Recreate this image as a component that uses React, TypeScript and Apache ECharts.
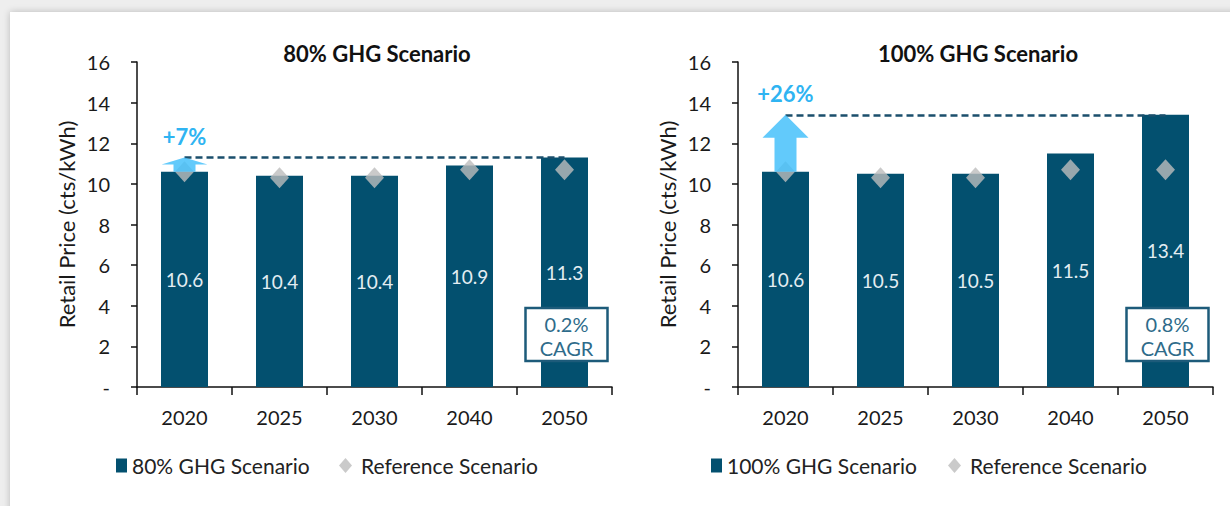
import React, { useEffect, useRef } from "react";
import * as echarts from "echarts";

const categories = ["2020", "2025", "2030", "2040", "2050"];
const ghg80 = [10.6, 10.4, 10.4, 10.9, 11.3];
const ghg100 = [10.6, 10.5, 10.5, 11.5, 13.4];
const reference = [10.6, 10.3, 10.3, 10.7, 10.7];
const yTicks = [0, 2, 4, 6, 8, 10, 12, 14, 16];
const titles = ["80% GHG Scenario", "100% GHG Scenario"];
const increaseLabels = ["+7%", "+26%"];
const cagrLabels = ["0.2%", "0.8%"];

const FONT = "Lato, 'Open Sans', sans-serif";
const BAR = "#03506f";
const DIAMOND = "#bdbdbd";
const ARROW = "rgba(64,190,250,0.82)";
const ARROWTXT = "#2fb4f2";
const DASH = "#1b4f6c";

function arrowItem(label: string) {
  return (params: any, api: any) => {
    const x = api.coord([api.value(0), api.value(1)]);
    const top = api.coord([api.value(0), api.value(2)]);
    const cx = x[0];
    const yb = x[1];
    const yt = top[1];
    const total = yb - yt;
    const headH = Math.min(23, total * 0.5);
    const headW = 23;
    const shaftW = 11;
    const yh = yt + headH;
    return {
      type: "group",
      children: [
        {
          type: "polygon",
          shape: {
            points: [
              [cx, yt],
              [cx + headW, yh],
              [cx + shaftW, yh],
              [cx + shaftW, yb],
              [cx - shaftW, yb],
              [cx - shaftW, yh],
              [cx - headW, yh],
            ],
          },
          style: { fill: ARROW },
        },
        {
          type: "text",
          style: {
            text: label,
            x: cx,
            y: yt - 21,
            fill: ARROWTXT,
            fontSize: 22,
            fontWeight: "bold",
            fontFamily: FONT,
            align: "center",
            verticalAlign: "middle",
            textAlign: "center",
            textVerticalAlign: "middle",
          },
        },
      ],
    };
  };
}

function cagrItem(label: string) {
  return (params: any, api: any) => {
    const base = api.coord([api.value(0), 0]);
    const cx = base[0] + 2;
    const w = 82;
    const h = 53;
    const y0 = base[1] - 79;
    return {
      type: "group",
      children: [
        {
          type: "rect",
          shape: { x: cx - w / 2, y: y0, width: w, height: h },
          style: { fill: "#ffffff", stroke: "#1d5b7a", lineWidth: 2.5 },
        },
        {
          type: "text",
          style: {
            text: label + "\nCAGR",
            x: cx,
            y: y0 + h / 2 + 1,
            fill: "#2e6b8a",
            fontSize: 20,
            lineHeight: 24,
            fontFamily: FONT,
            align: "center",
            verticalAlign: "middle",
            textAlign: "center",
            textVerticalAlign: "middle",
          },
        },
      ],
    };
  };
}

export default function App() {
  const ref = useRef<HTMLDivElement>(null);

  useEffect(() => {
    if (!ref.current) return;
    const chart = echarts.init(ref.current, null, { renderer: "svg" });
    const gridLefts = [137, 738];
    const scen = [ghg80, ghg100];
    const names = ["80% GHG Scenario", "100% GHG Scenario"];

    const series: any[] = [];
    scen.forEach((vals, i) => {
      series.push({
        name: names[i],
        type: "bar",
        xAxisIndex: i,
        yAxisIndex: i,
        data: vals,
        barWidth: 47,
        itemStyle: { color: BAR },
        label: {
          show: true,
          position: "inside",
          color: "#e4edf2",
          fontSize: 19,
          fontFamily: FONT,
        },
        markLine: {
          silent: true,
          symbol: "none",
          label: { show: false },
          lineStyle: { color: DASH, type: [7, 4], width: 2.5 },
          data: [
            [
              { coord: [categories[0], vals[vals.length - 1]] },
              { coord: [categories[categories.length - 1], vals[vals.length - 1]] },
            ],
          ],
          z: 4,
        },
        z: 2,
      });
      series.push({
        name: "Reference Scenario",
        type: "scatter",
        xAxisIndex: i,
        yAxisIndex: i,
        data: reference,
        symbol: "diamond",
        symbolSize: [19, 21],
        itemStyle: { color: DIAMOND },
        z: 3,
      });
      series.push({
        type: "custom",
        xAxisIndex: i,
        yAxisIndex: i,
        clip: false,
        silent: true,
        renderItem: arrowItem(increaseLabels[i]),
        encode: { x: 0, y: [1, 2] },
        data: [[0, vals[0], vals[vals.length - 1]]],
        z: 5,
      });
      series.push({
        type: "custom",
        xAxisIndex: i,
        yAxisIndex: i,
        clip: false,
        silent: true,
        renderItem: cagrItem(cagrLabels[i]),
        encode: { x: 0, y: 1 },
        data: [[categories.length - 1, 0]],
        z: 6,
      });
    });

    const legendText = { fontSize: 21, color: "#222", fontFamily: FONT };
    const option: any = {
      animation: false,
      backgroundColor: "transparent",
      textStyle: { fontFamily: FONT },
      title: titles.map((t, i) => ({
        text: t,
        left: gridLefts[i] + 235,
        top: 37,
        textAlign: "center",
        textStyle: { fontSize: 22, fontWeight: "bold", color: "#111", fontFamily: FONT },
      })),
      legend: [
        {
          data: [names[0]],
          left: 111,
          top: 450,
          icon: "rect",
          itemWidth: 11,
          itemHeight: 14,
          textStyle: legendText,
        },
        {
          data: ["Reference Scenario"],
          left: 334,
          top: 450,
          icon: "diamond",
          itemWidth: 13,
          itemHeight: 15,
          textStyle: { ...legendText, padding: [0, 0, 0, 4] },
        },
        {
          data: [names[1]],
          left: 706,
          top: 450,
          icon: "rect",
          itemWidth: 11,
          itemHeight: 14,
          textStyle: legendText,
        },
        {
          data: ["Reference Scenario"],
          left: 943,
          top: 450,
          icon: "diamond",
          itemWidth: 13,
          itemHeight: 15,
          textStyle: { ...legendText, padding: [0, 0, 0, 4] },
        },
      ],
      grid: gridLefts.map((l) => ({ left: l, top: 62, width: 475, height: 325 })),
      xAxis: gridLefts.map((_, i) => ({
        type: "category",
        gridIndex: i,
        data: categories,
        axisLine: { lineStyle: { color: "#111", width: 1.5 } },
        axisTick: { show: true, length: 8, lineStyle: { color: "#111", width: 1.5 } },
        axisLabel: { fontSize: 20, color: "#1a1a1a", margin: 20, fontFamily: FONT },
      })),
      yAxis: gridLefts.map((_, i) => ({
        type: "value",
        gridIndex: i,
        min: yTicks[0],
        max: yTicks[yTicks.length - 1],
        interval: 2,
        name: "Retail Price (cts/kWh)",
        nameLocation: "middle",
        nameGap: 60,
        nameTextStyle: { fontSize: 22, color: "#1a1a1a", fontFamily: FONT },
        axisLine: { show: true, lineStyle: { color: "#111", width: 1.5 } },
        axisTick: { show: true, length: 6, lineStyle: { color: "#111", width: 1.5 } },
        splitLine: { show: false },
        axisLabel: {
          fontSize: 20,
          color: "#1a1a1a",
          margin: 27,
          fontFamily: FONT,
          formatter: (v: number) => (v === 0 ? "-" : String(v)),
        },
      })),
      series,
    };
    chart.setOption(option);
    return () => chart.dispose();
  }, []);

  return (
    <div
      style={{
        position: "fixed",
        left: 0,
        top: 0,
        width: 1230,
        height: 506,
        background: "#eeeeee",
        overflow: "hidden",
      }}
    >
      <div
        style={{
          position: "absolute",
          left: 10,
          top: 12,
          width: 1240,
          height: 520,
          background: "#ffffff",
          boxShadow: "0 0 7px rgba(0,0,0,0.22)",
        }}
      />
      <div ref={ref} style={{ position: "absolute", left: 0, top: 0, width: 1230, height: 506 }} />
    </div>
  );
}
